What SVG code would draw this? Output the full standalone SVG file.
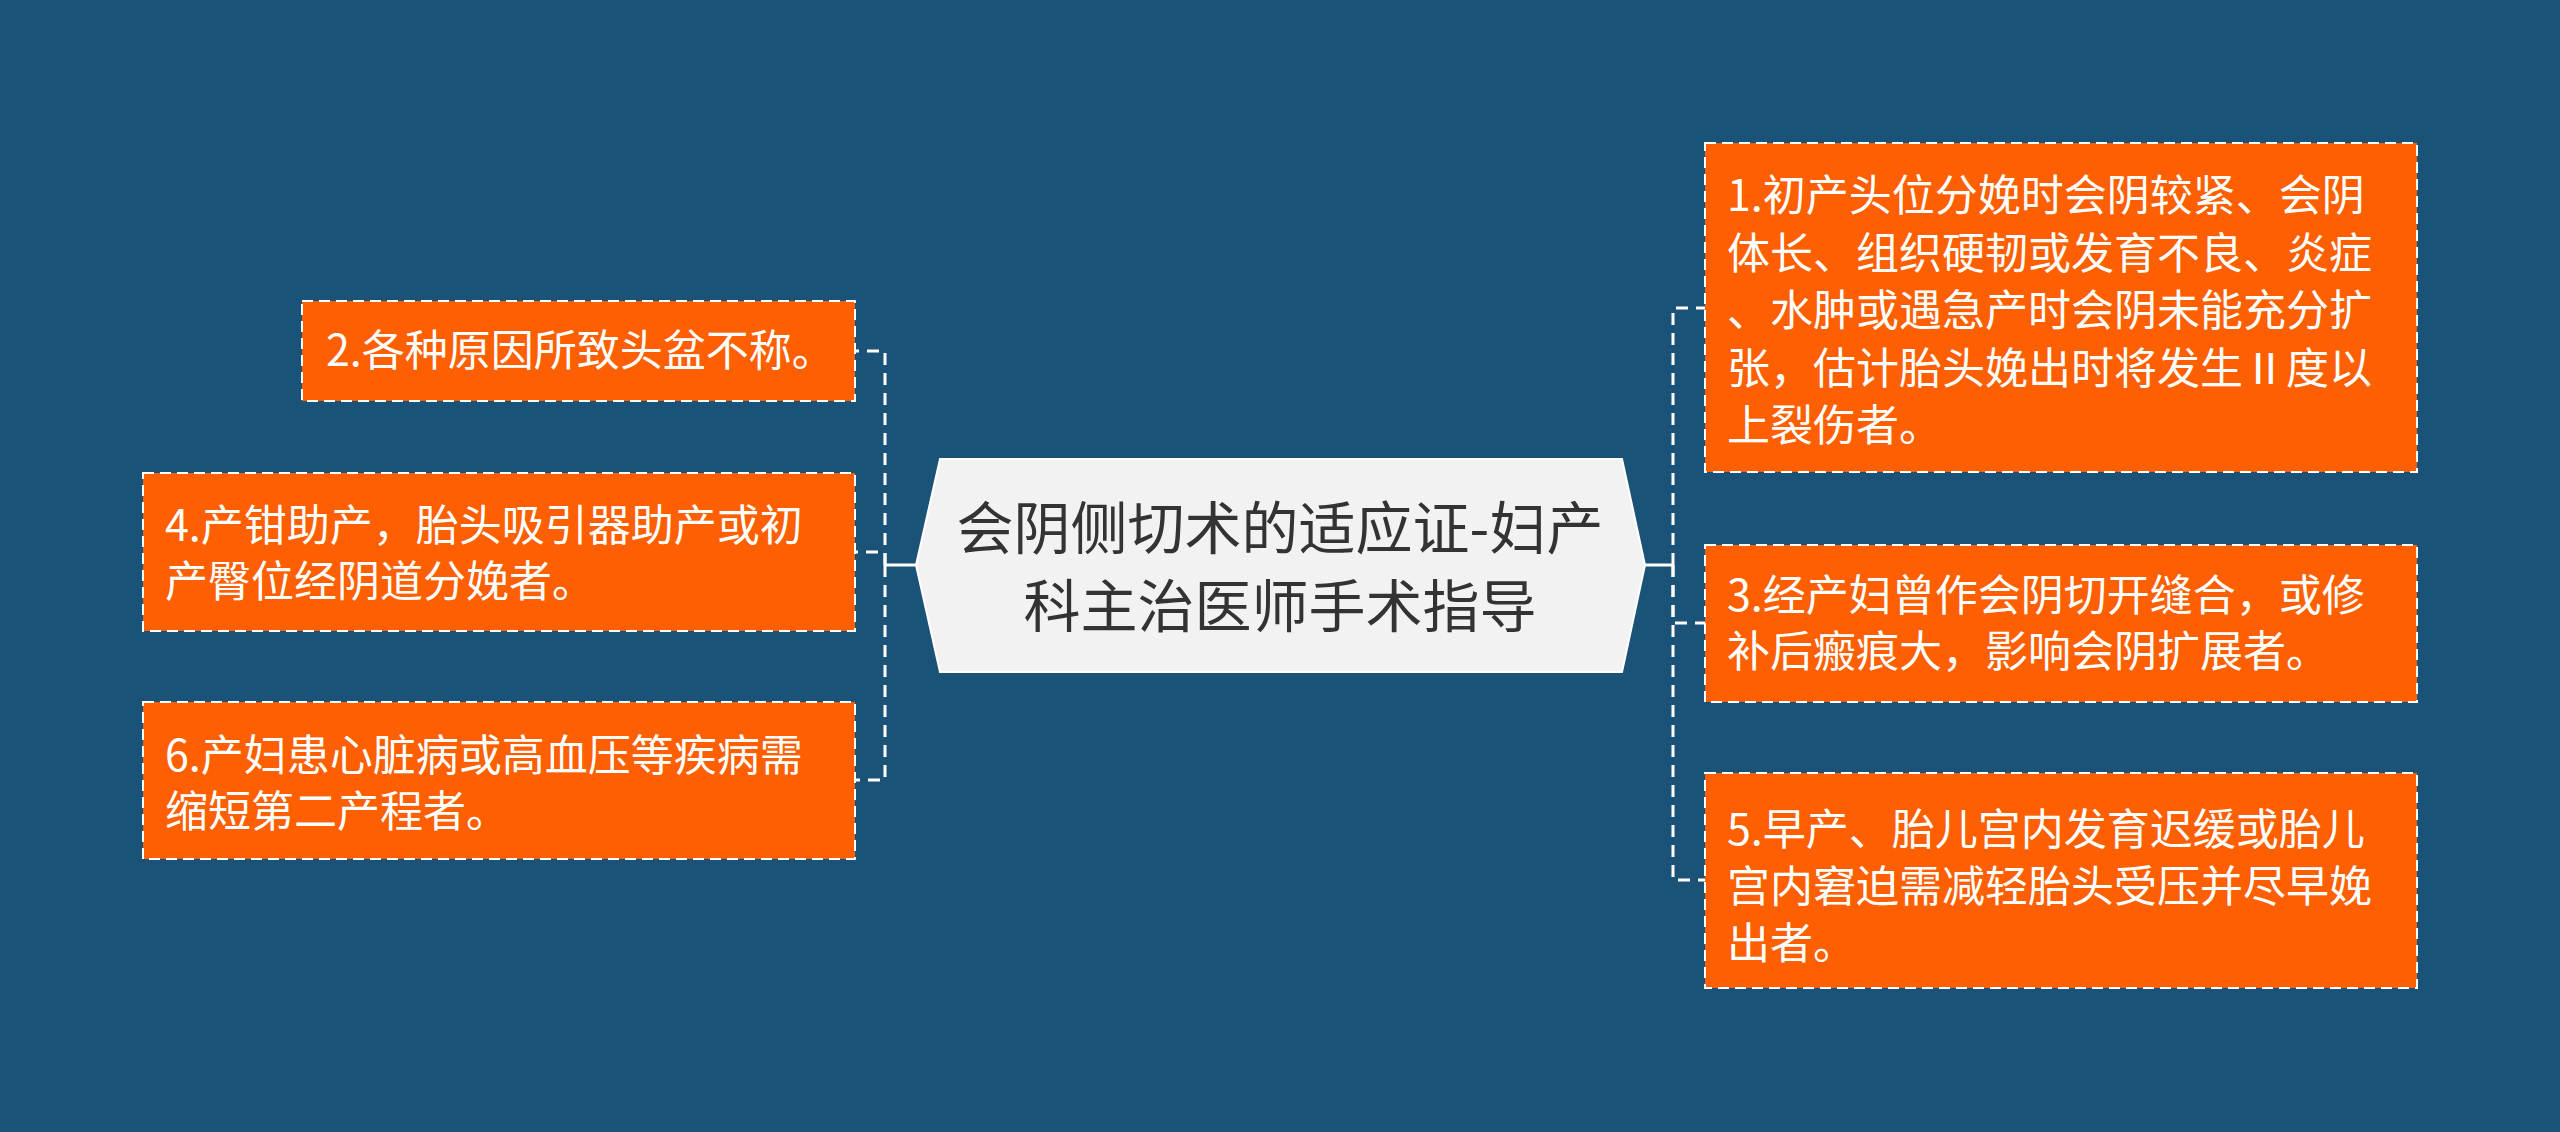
<svg xmlns="http://www.w3.org/2000/svg" width="2560" height="1132" viewBox="0 0 2560 1132">
<style>
.bg{fill:#1a5377}
.box{fill:#fd5f02;stroke:#ffffff;stroke-width:2;stroke-dasharray:11 6}
.t{font-family:"Noto Sans CJK SC","Noto Sans",sans-serif;font-size:43px;fill:#ffffff}
.title{font-family:"Noto Sans CJK SC","Noto Sans",sans-serif;font-size:57px;fill:#333333;text-anchor:middle}
.dash{fill:none;stroke:#ffffff;stroke-width:3;stroke-dasharray:12 8}
.solid{fill:none;stroke:#ffffff;stroke-width:3}
</style>
<rect class="bg" x="0" y="0" width="2560" height="1132"/>
<g id="connectors">
<path class="solid" d="M916,565 H885"/>
<path class="dash" d="M885,565 V351 H855"/>
<path class="dash" d="M885,565 V552 H855"/>
<path class="dash" d="M885,565 V780 H855"/>
<path class="solid" d="M1645,565 H1673"/>
<path class="dash" d="M1673,565 V308 H1705"/>
<path class="dash" d="M1673,565 V623 H1705"/>
<path class="dash" d="M1673,565 V880 H1705"/>
</g>
<g id="center">
<polygon points="940,459 1622,459 1645,565 1622,672 940,672 916,565" fill="#f2f2f2" stroke="#ffffff" stroke-width="2"/>
<text class="title" x="1280" y="549">会阴侧切术的适应证-妇产</text>
<text class="title" x="1280" y="627">科主治医师手术指导</text>
</g>
<g id="node2">
<rect class="box" x="302" y="301" width="553" height="100"/>
<text class="t" x="326" y="366">2.各种原因所致头盆不称。</text>
</g>
<g id="node4">
<rect class="box" x="143" y="473" width="712" height="158"/>
<text class="t" x="165" y="541">4.产钳助产，胎头吸引器助产或初</text>
<text class="t" x="165" y="597">产臀位经阴道分娩者。</text>
</g>
<g id="node6">
<rect class="box" x="143" y="702" width="712" height="157"/>
<text class="t" x="165" y="771">6.产妇患心脏病或高血压等疾病需</text>
<text class="t" x="165" y="827">缩短第二产程者。</text>
</g>
<g id="node1">
<rect class="box" x="1705" y="143" width="712" height="329"/>
<text class="t" x="1727" y="211">1.初产头位分娩时会阴较紧、会阴</text>
<text class="t" x="1727" y="268.5">体长、组织硬韧或发育不良、炎症</text>
<text class="t" x="1727" y="326">、水肿或遇急产时会阴未能充分扩</text>
<text class="t" x="1727" y="383.5">张，估计胎头娩出时将发生Ⅱ度以</text>
<text class="t" x="1727" y="441">上裂伤者。</text>
</g>
<g id="node3">
<rect class="box" x="1705" y="545" width="712" height="157"/>
<text class="t" x="1727" y="611">3.经产妇曾作会阴切开缝合，或修</text>
<text class="t" x="1727" y="667">补后瘢痕大，影响会阴扩展者。</text>
</g>
<g id="node5">
<rect class="box" x="1705" y="773" width="712" height="215"/>
<text class="t" x="1727" y="845">5.早产、胎儿宫内发育迟缓或胎儿</text>
<text class="t" x="1727" y="902">宫内窘迫需减轻胎头受压并尽早娩</text>
<text class="t" x="1727" y="959">出者。</text>
</g>
</svg>
